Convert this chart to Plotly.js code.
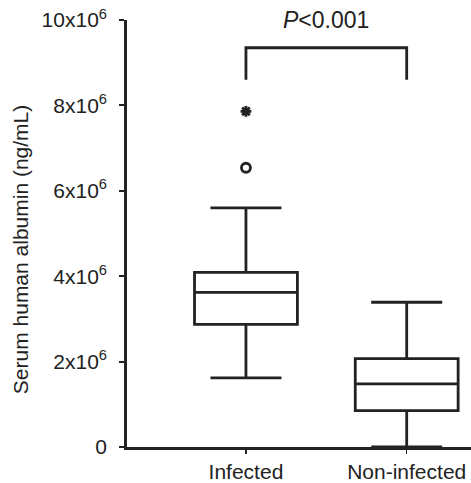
<!DOCTYPE html>
<html>
<head>
<meta charset="utf-8">
<script src="https://cdn.plot.ly/plotly-3.0.1.min.js"></script>
<style>html,body{margin:0;padding:0;background:#fff;}#chart{width:471px;height:483px;}</style>
</head>
<body>
<div id="chart"></div>
<script>
// Data
const categories = ["Infected", "Non-infected"];
const catPositions = [1, 2];
const q1 = [2.87e6, 0.85e6];
const medians = [3.62e6, 1.48e6];
const q3 = [4.09e6, 2.07e6];
const lowerWhisker = [1.62e6, 0];
const upperWhisker = [5.6e6, 3.39e6];
const outlierCircle = [6.54e6];   // Infected
const outlierStar = [7.86e6];     // Infected (extreme)
const bracketLow = 8.6e6;
const bracketHigh = 9.35e6;
const pText = "<i>P</i>&lt;0.001";
const yTitle = "Serum human albumin (ng/mL)";
const yTickVals = [0, 2e6, 4e6, 6e6, 8e6, 10e6];
const yTickText = ["0", "2x10<sup>6</sup>", "4x10<sup>6</sup>", "6x10<sup>6</sup>", "8x10<sup>6</sup>", "10x10<sup>6</sup>"];

const font = "Arial, 'Liberation Sans', sans-serif";

const boxes = categories.map((c, i) => ({
  type: "box",
  name: c,
  x: [catPositions[i]],
  q1: [q1[i]],
  median: [medians[i]],
  q3: [q3[i]],
  lowerfence: [lowerWhisker[i]],
  upperfence: [upperWhisker[i]],
  width: 0.64,
  whiskerwidth: 0.69,
  fillcolor: "rgba(255,255,255,0)",
  line: {color: "#222", width: 2.8},
  boxpoints: false,
  hoverinfo: "skip",
  showlegend: false
}));

const circle = {
  type: "scatter", mode: "markers",
  x: [catPositions[0]], y: outlierCircle,
  marker: {symbol: "circle-open", size: 9, color: "#222", line: {width: 2.8, color: "#222"}},
  showlegend: false, hoverinfo: "skip", cliponaxis: false
};
const star = {
  type: "scatter", mode: "markers",
  x: [catPositions[0]], y: outlierStar,
  marker: {symbol: "asterisk-open", size: 9, color: "#222", line: {width: 2.8, color: "#222"}},
  showlegend: false, hoverinfo: "skip", cliponaxis: false
};
const bracket = {
  type: "scatter", mode: "lines",
  x: [catPositions[0], catPositions[0], catPositions[1], catPositions[1]],
  y: [bracketLow, bracketHigh, bracketHigh, bracketLow],
  line: {color: "#222", width: 2.8, shape: "linear"},
  showlegend: false, hoverinfo: "skip", cliponaxis: false
};

const layout = {
  width: 471, height: 483,
  margin: {l: 127, r: 0, t: 20, b: 36},
  paper_bgcolor: "#fff", plot_bgcolor: "#fff",
  font: {family: font, size: 20, color: "#222"},
  showlegend: false,
  xaxis: {
    range: [0.26, 2.4],
    tickvals: catPositions, ticktext: categories,
    showgrid: false, zeroline: false,
    showline: true, linecolor: "#222", linewidth: 2.8,
    ticks: "outside", ticklen: 4, tickwidth: 1.5, tickcolor: "#222",
    tickfont: {size: 21, family: font, color: "#222"},
    ticklabelstandoff: 0
  },
  yaxis: {
    range: [0, 1e7],
    tickvals: yTickVals, ticktext: yTickText,
    showgrid: false, zeroline: false,
    showline: true, linecolor: "#222", linewidth: 2.8,
    ticks: "outside", ticklen: 5, tickwidth: 2, tickcolor: "#222",
    tickfont: {size: 21, family: font, color: "#222"},
    ticklabelstandoff: 8
  },
  annotations: [{
    x: 1.5, y: 1e7, xref: "x", yref: "y",
    text: pText, showarrow: false,
    font: {size: 23, family: font, color: "#222"},
    yanchor: "middle", xanchor: "center"
  }, {
    x: -0.311, y: 0.461, xref: "paper", yref: "paper",
    text: yTitle, showarrow: false, textangle: -90,
    font: {size: 21, family: font, color: "#222"},
    xanchor: "center", yanchor: "middle"
  }]
};

Plotly.newPlot("chart", [...boxes, circle, star, bracket], layout, {displayModeBar: false, staticPlot: true});
</script>
</body>
</html>
